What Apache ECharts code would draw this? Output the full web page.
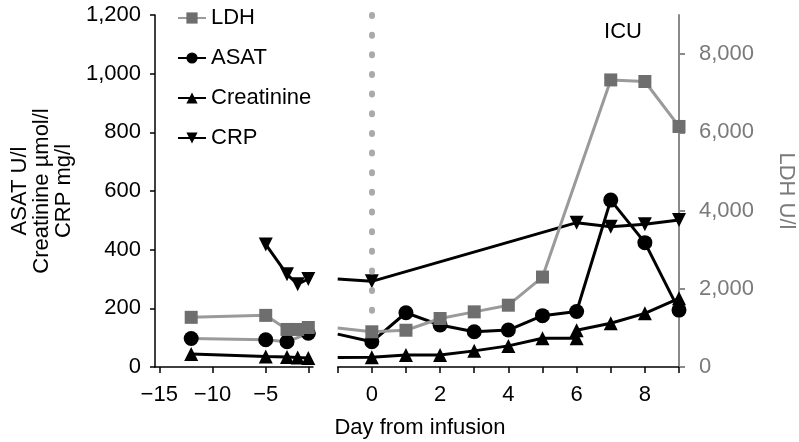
<!DOCTYPE html>
<html>
<head>
<meta charset="utf-8">
<script src="https://cdn.jsdelivr.net/npm/echarts@6/dist/echarts.min.js"></script>
<style>html,body{margin:0;padding:0;background:#fff}#c{width:799px;height:442px}</style>
</head>
<body>
<div id="c"></div>
<script>
// ---- data (days relative to infusion) ----
const preDays = [-12, -5, -3, -2, -1];
const ldhPre = [1270, 1320, 960, 960, 1010];
const asatPre = [97, 93, 86, null, 115];
const creatPre = [44, 36, 34, 32, 31];
const crpPre = [null, 418, 316, 282, 300];

const postDays = [-1, 0, 1, 2, 3, 4, 5, 6, 7, 8, 9];
const ldhPost = [1000, 900, 940, 1240, 1410, 1580, 2300, null, 7340, 7300, 6150];
const asatPost = [112, 86, 185, 143, 120, 126, 175, 189, 569, 424, 194];

const creatPostDays = [-1, 0, 1, 2, 3, 4, 5, 6, 6, 7, 8, 9];
const creatPost = [32, 33, 41, 41, 55, 72, 98, 98, 125, 149, 183, 234];

const crpPostDays = [-1, 0, 6, 7, 8, 9];
const crpPost = [300, 292, 492, 478, 487, 501];

const rightTicks = [0, 2000, 4000, 6000, 8000];
const preTickDays = [-15, -10, -5, -1];
const preLabelDays = [-15, -10, -5];
const postLabelDays = [0, 2, 4, 6, 8];
const infusionDay = 0;

function pairs(days, vals) {
  const out = [];
  days.forEach((d, i) => { if (vals[i] !== null && vals[i] !== undefined) out.push([d, vals[i]]); });
  return out;
}
function fmtNum(v) { return String(v).replace(/\B(?=(\d{3})+(?!\d))/g, ','); }
function fmtDay(v) { return v < 0 ? '\u2212' + Math.abs(v) : String(v); }

const FONT = 'Liberation Sans, Arial, Helvetica, sans-serif';
const FS = 22;
const GRAY_LINE = '#9a9a9a';
const GRAY_MARK = '#6e6e6e';

const chart = echarts.init(document.getElementById('c'), null, {renderer: 'canvas'});

function ldhSeries(name, x, y, data) {
  return {name, type: 'line', xAxisIndex: x, yAxisIndex: y, data, z: 5, clip: false,
    symbol: 'rect', symbolSize: 13, showAllSymbol: true,
    lineStyle: {color: GRAY_LINE, width: 3}, itemStyle: {color: GRAY_MARK}};
}
function blackSeries(name, x, y, data, symbol, size, rot, lineColor) {
  return {name, type: 'line', xAxisIndex: x, yAxisIndex: y, data, z: 3, clip: false,
    connectNulls: true, symbol, symbolSize: size, symbolRotate: rot || 0,
    lineStyle: {color: lineColor || '#000', width: 3}, itemStyle: {color: '#000'}};
}
function hideFirst(p) { return p[0] === -1 ? {value: p, symbol: 'none'} : p; }

const asatPostSeries = blackSeries('ASAT', 1, 2, pairs(postDays, asatPost).map(hideFirst), 'circle', 15);
asatPostSeries.markLine = {
  silent: true, symbol: ['none', 'none'], label: {show: false}, animation: false,
  lineStyle: {color: '#aaaaaa', width: 6, type: [1, 18.65], cap: 'round', opacity: 1},
  emphasis: {disabled: true},
  data: [[{coord: [infusionDay, 1200]}, {coord: [infusionDay, 62]}]]
};

const option = {
  animation: false,
  textStyle: {fontFamily: FONT},
  grid: [
    {left: 155, top: 15, width: 158, height: 352},
    {left: 337.7, top: 15, width: 341.3, height: 352}
  ],
  xAxis: [
    {gridIndex: 0, type: 'value', min: -15.4, max: -0.56,
      axisLine: {onZero: false, lineStyle: {color: '#000', width: 1.5}},
      axisTick: {customValues: preTickDays, length: 6, lineStyle: {color: '#000', width: 1.5}},
      axisLabel: {customValues: preLabelDays, formatter: fmtDay, fontSize: FS, color: '#000', margin: 17, fontFamily: FONT},
      splitLine: {show: false}},
    {gridIndex: 1, type: 'value', min: -1, max: 9, interval: 1,
      axisLine: {onZero: false, lineStyle: {color: '#000', width: 1.5}},
      axisTick: {length: 6, lineStyle: {color: '#000', width: 1.5}},
      axisLabel: {customValues: postLabelDays, formatter: fmtDay, fontSize: FS, color: '#000', margin: 17, fontFamily: FONT},
      splitLine: {show: false}}
  ],
  yAxis: [
    {gridIndex: 0, type: 'value', min: 0, max: 1200, interval: 200, position: 'left',
      name: 'ASAT U/l\nCreatinine \u00b5mol/l\nCRP mg/l', nameLocation: 'middle', nameGap: 80,
      nameTextStyle: {fontSize: FS, color: '#000', lineHeight: 22, fontFamily: FONT},
      axisLine: {show: true, lineStyle: {color: '#000', width: 1.5}},
      axisTick: {show: true, length: 5, lineStyle: {color: '#000', width: 1.5}},
      axisLabel: {formatter: fmtNum, fontSize: FS, color: '#000', margin: 14, fontFamily: FONT},
      splitLine: {show: false}},
    {gridIndex: 0, type: 'value', min: 0, max: 9000, show: false, splitLine: {show: false}},
    {gridIndex: 1, type: 'value', min: 0, max: 1200, show: false, splitLine: {show: false}},
    {gridIndex: 1, type: 'value', min: 0, max: 9000, position: 'right',
      name: 'LDH U/l', nameLocation: 'middle', nameGap: 96, nameRotate: -90,
      nameTextStyle: {fontSize: FS, color: '#7a7a7a', fontFamily: FONT},
      axisLine: {show: true, lineStyle: {color: '#8a8a8a', width: 2}},
      axisTick: {show: true, customValues: rightTicks, length: 6, lineStyle: {color: '#8a8a8a', width: 2}},
      axisLabel: {customValues: rightTicks, formatter: fmtNum, fontSize: FS, color: '#7a7a7a', margin: 20, fontFamily: FONT},
      splitLine: {show: false}}
  ],
  legend: {
    orient: 'vertical', left: 172, top: 2, itemWidth: 28, itemHeight: 14, itemGap: 18,
    data: ['LDH', 'ASAT', 'Creatinine', 'CRP'],
    textStyle: {fontSize: FS, color: '#000', fontFamily: FONT}
  },
  graphic: [
    {type: 'text', x: 420, y: 428, style: {text: 'Day from infusion', align: 'center', verticalAlign: 'middle', fontSize: FS, fill: '#000', fontFamily: FONT}},
    {type: 'text', x: 623, y: 32, style: {text: 'ICU', align: 'center', verticalAlign: 'middle', fontSize: FS, fill: '#000', fontFamily: FONT}}
  ],
  series: [
    ldhSeries('LDH', 1, 3, pairs(postDays, ldhPost).map(hideFirst)),
    asatPostSeries,
    blackSeries('Creatinine', 1, 2, pairs(creatPostDays, creatPost).map(hideFirst), 'triangle', 14),
    blackSeries('CRP', 1, 2, pairs(crpPostDays, crpPost).map(hideFirst), 'triangle', 14, 180),
    ldhSeries('LDH', 0, 1, pairs(preDays, ldhPre)),
    blackSeries('ASAT', 0, 0, pairs(preDays, asatPre), 'circle', 15, 0, GRAY_LINE),
    blackSeries('Creatinine', 0, 0, pairs(preDays, creatPre), 'triangle', 14),
    blackSeries('CRP', 0, 0, pairs(preDays, crpPre), 'triangle', 14, 180)
  ]
};
chart.setOption(option);
</script>
</body>
</html>
